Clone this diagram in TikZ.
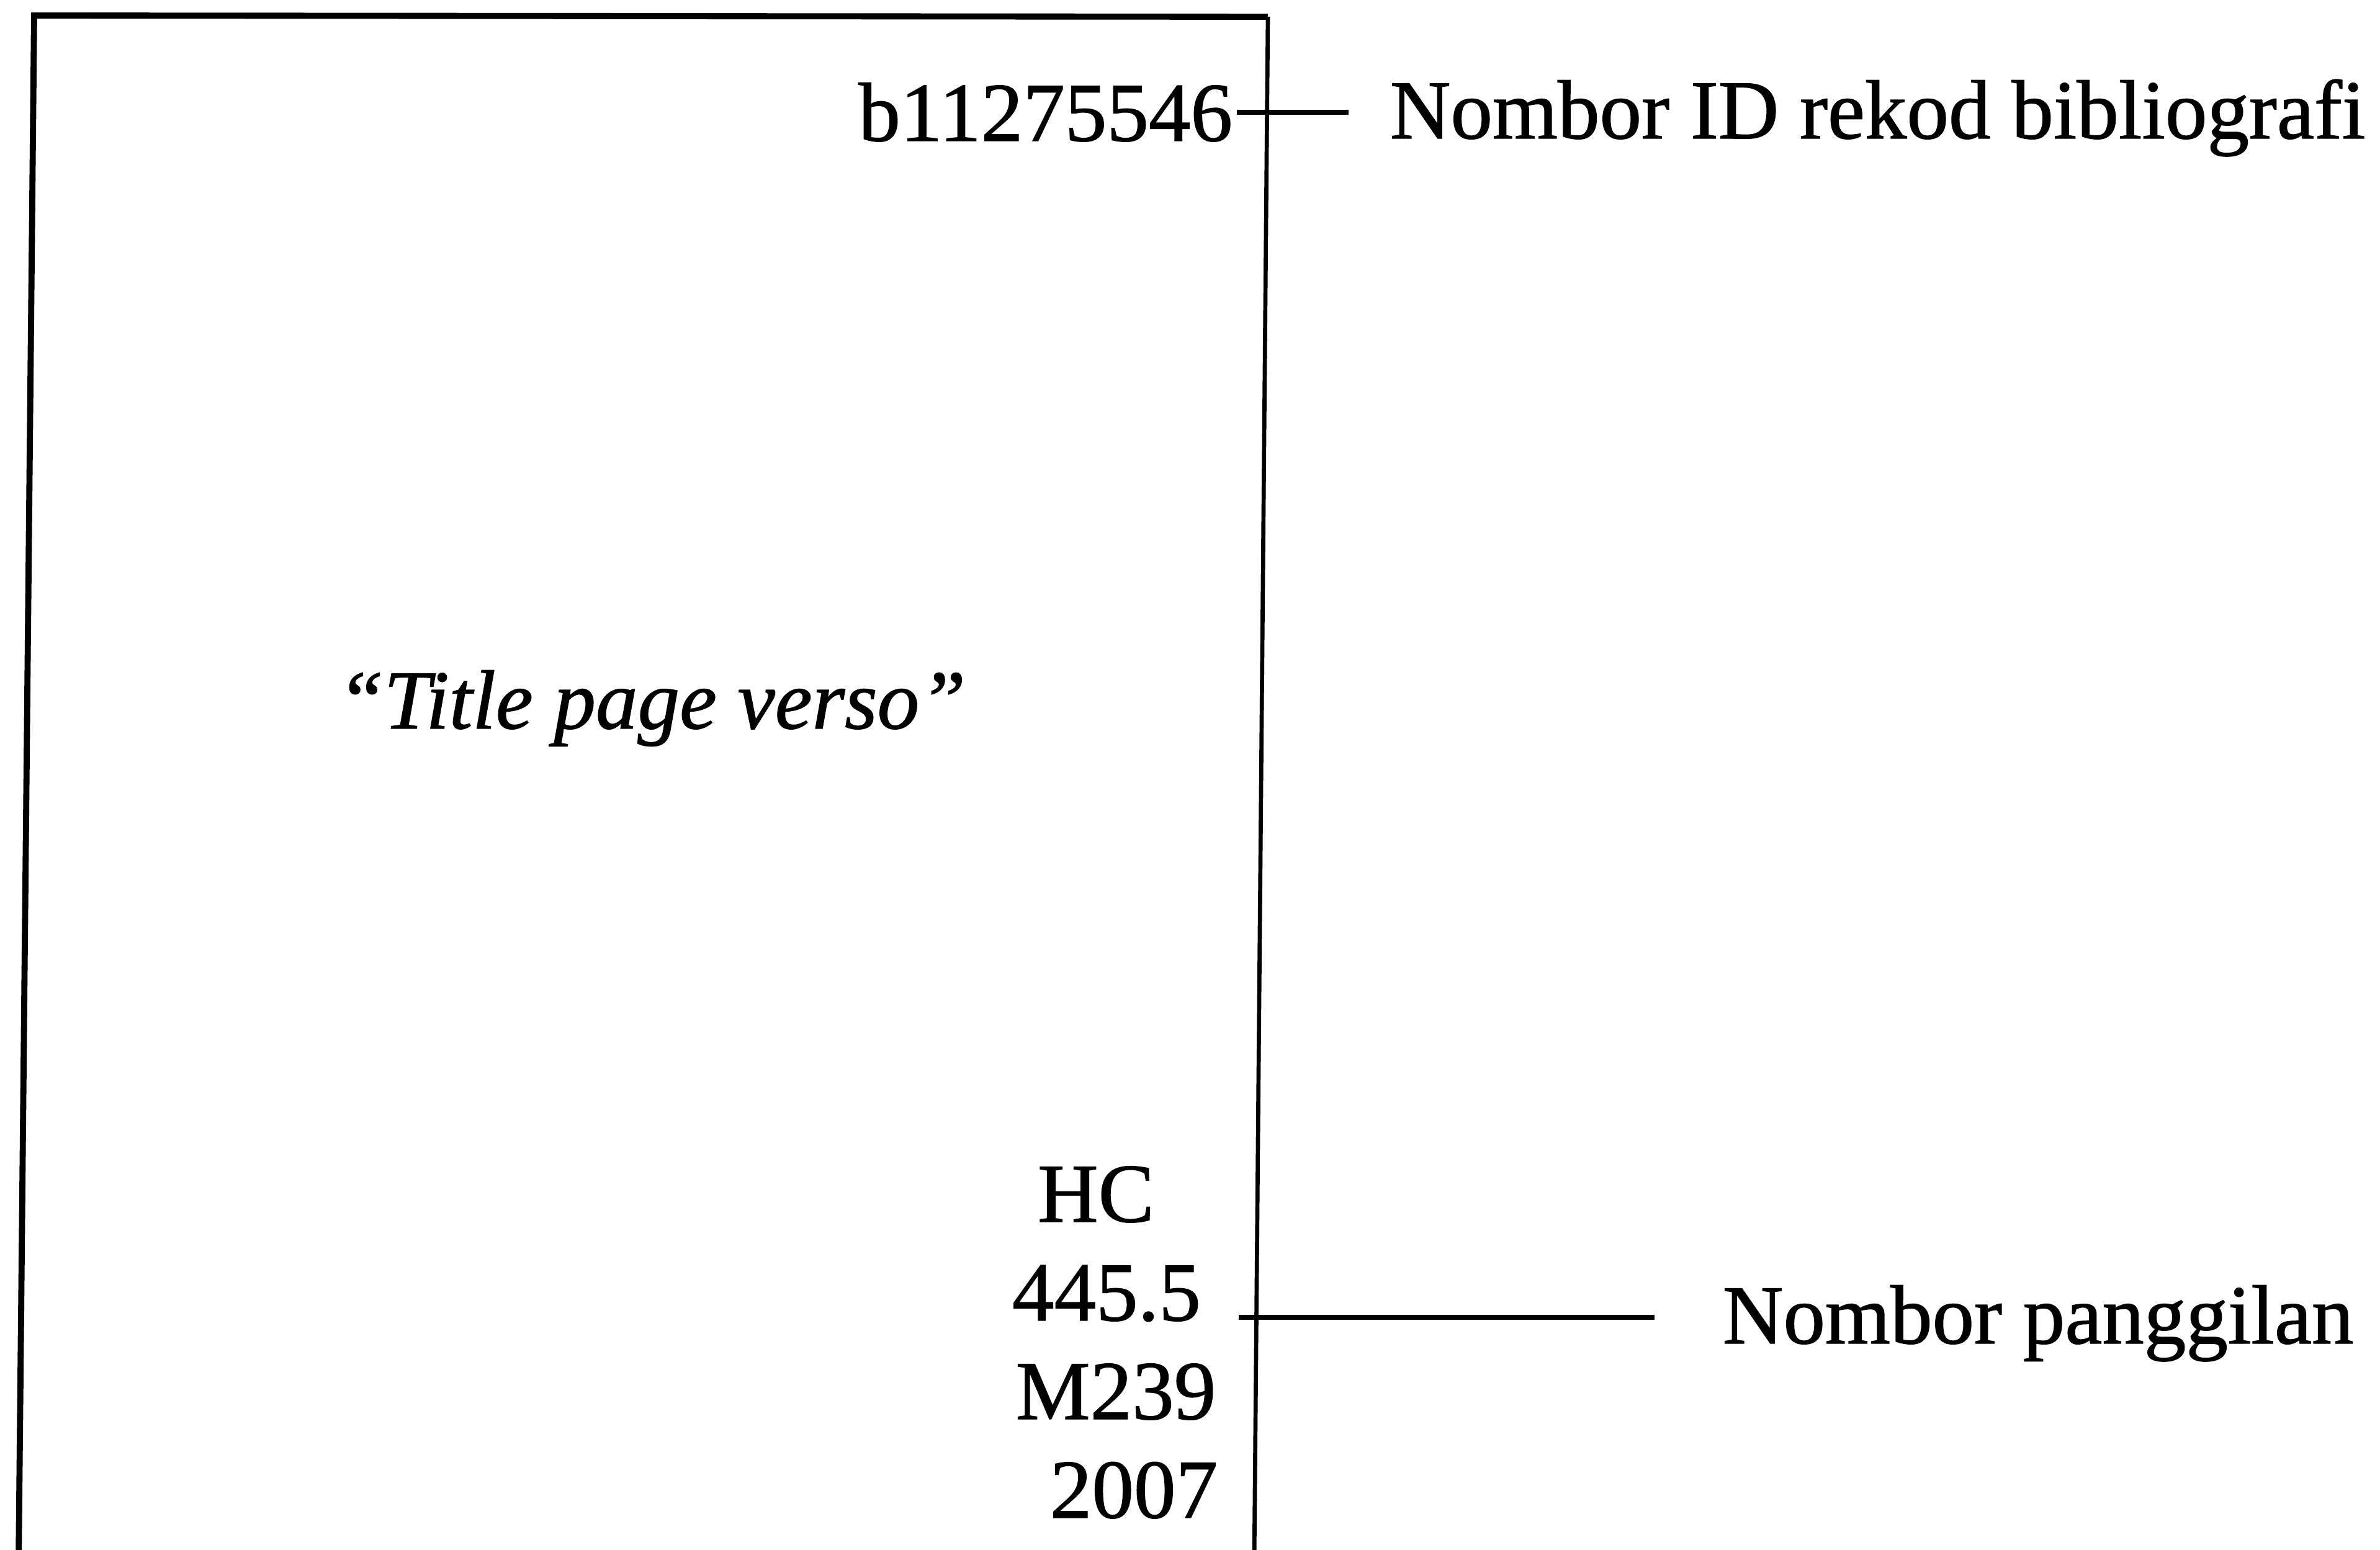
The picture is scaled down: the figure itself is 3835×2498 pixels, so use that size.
\documentclass[tikz,border=0pt]{standalone}
\usepackage{fontspec}
\setmainfont[FakeBold=1]{Liberation Serif}
\usetikzlibrary{calc}
\begin{document}
\begin{tikzpicture}[x=0.01cm,y=-0.01cm,
  txt/.style={inner sep=0pt,outer sep=0pt,font=\fontsize{38.4pt}{46pt}\selectfont},
  frameline/.style={line width=2.8pt,line join=miter},
  frameright/.style={line width=1.9pt},
  leader/.style={line width=2.2pt}]
\useasboundingbox (0,0) rectangle (3835,2498);
\clip (0,0) rectangle (3835,2498);

% page outline (bottom edge runs off the sheet)
\draw[frameline] (30,2520) -- (55,25) -- (2043,27);
\draw[frameright] (2043,27) -- (2021,2520);

% bibliographic record ID
\node[txt,anchor=base east] (id) at (1986,227) {b11275546};
\node[txt,anchor=base west] (idlab) at (2240,223) {Nombor ID rekod bibliografi};
\draw[leader,shorten <=0.07cm,shorten >=0.67cm] (id.east) -- (id.east -| idlab.west);

% caption in the middle of the page
\node[txt,anchor=base,font=\fontsize{38.4pt}{46pt}\selectfont\itshape] (title) at (1050,1174) {“Title page verso”};

% call number
\node[txt,anchor=base] (hc) at (1766,1969) {HC};
\node[txt,anchor=base] (cn) at (1783,2128) {445.5};
\node[txt,anchor=base] (cut) at (1798,2287) {M239};
\node[txt,anchor=base] (yr) at (1827,2446) {2007};
\node[txt,anchor=base west] (pglab) at (2776,2165) {Nombor panggilan};
\draw[leader] ($(cn.base east)+(61,-5)$) -- ($(pglab.west |- cn.base)+(-110,-5)$);
\end{tikzpicture}
\end{document}
